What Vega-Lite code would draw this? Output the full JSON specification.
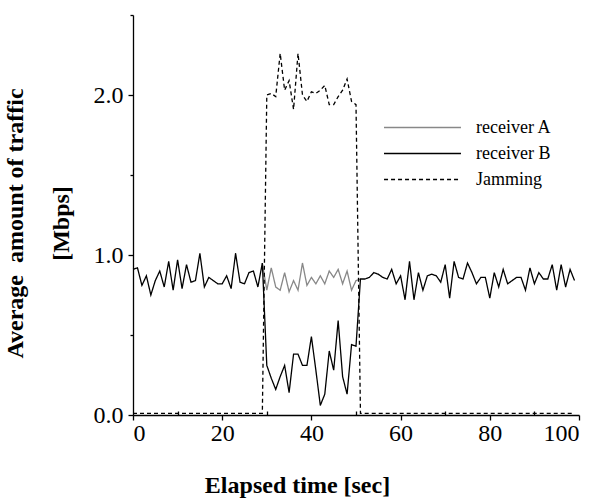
{
"$schema": "https://vega.github.io/schema/vega-lite/v6.json",
"width": 446, "height": 400,
"autosize": "none",
"padding": {"left": 133, "top": 15, "right": 26, "bottom": 83},
"background": "white",
"config": {"view": {"stroke": null}, "font": "Liberation Serif"},
"data": {"values": [
{"t":29,"v":0.95,"s":"receiver A"},{"t":30,"v":0.78,"s":"receiver A"},{"t":31,"v":0.92,"s":"receiver A"},{"t":32,"v":0.80,"s":"receiver A"},{"t":33,"v":0.78,"s":"receiver A"},{"t":34,"v":0.89,"s":"receiver A"},{"t":35,"v":0.77,"s":"receiver A"},{"t":36,"v":0.84,"s":"receiver A"},{"t":37,"v":0.78,"s":"receiver A"},{"t":38,"v":0.95,"s":"receiver A"},{"t":39,"v":0.81,"s":"receiver A"},{"t":40,"v":0.86,"s":"receiver A"},{"t":41,"v":0.82,"s":"receiver A"},{"t":42,"v":0.87,"s":"receiver A"},{"t":43,"v":0.82,"s":"receiver A"},{"t":44,"v":0.90,"s":"receiver A"},{"t":45,"v":0.86,"s":"receiver A"},{"t":46,"v":0.91,"s":"receiver A"},{"t":47,"v":0.82,"s":"receiver A"},{"t":48,"v":0.90,"s":"receiver A"},{"t":49,"v":0.78,"s":"receiver A"},{"t":50,"v":0.84,"s":"receiver A"},{"t":51,"v":0.85,"s":"receiver A"},
{"t":0,"v":0.91,"s":"receiver B"},{"t":1,"v":0.92,"s":"receiver B"},{"t":2,"v":0.81,"s":"receiver B"},{"t":3,"v":0.87,"s":"receiver B"},{"t":4,"v":0.75,"s":"receiver B"},{"t":5,"v":0.84,"s":"receiver B"},{"t":6,"v":0.90,"s":"receiver B"},{"t":7,"v":0.80,"s":"receiver B"},{"t":8,"v":0.96,"s":"receiver B"},{"t":9,"v":0.78,"s":"receiver B"},
{"t":10,"v":0.97,"s":"receiver B"},{"t":11,"v":0.79,"s":"receiver B"},{"t":12,"v":0.94,"s":"receiver B"},{"t":13,"v":0.83,"s":"receiver B"},{"t":14,"v":0.84,"s":"receiver B"},{"t":15,"v":1.01,"s":"receiver B"},{"t":16,"v":0.80,"s":"receiver B"},{"t":17,"v":0.86,"s":"receiver B"},{"t":18,"v":0.84,"s":"receiver B"},{"t":19,"v":0.82,"s":"receiver B"},
{"t":20,"v":0.82,"s":"receiver B"},{"t":21,"v":0.87,"s":"receiver B"},{"t":22,"v":0.79,"s":"receiver B"},{"t":23,"v":1.01,"s":"receiver B"},{"t":24,"v":0.83,"s":"receiver B"},{"t":25,"v":0.82,"s":"receiver B"},{"t":26,"v":0.89,"s":"receiver B"},{"t":27,"v":0.90,"s":"receiver B"},{"t":28,"v":0.80,"s":"receiver B"},{"t":29,"v":0.95,"s":"receiver B"},
{"t":30,"v":0.31,"s":"receiver B"},{"t":31,"v":0.23,"s":"receiver B"},{"t":32,"v":0.16,"s":"receiver B"},{"t":33,"v":0.24,"s":"receiver B"},{"t":34,"v":0.31,"s":"receiver B"},{"t":35,"v":0.14,"s":"receiver B"},{"t":36,"v":0.38,"s":"receiver B"},{"t":37,"v":0.38,"s":"receiver B"},{"t":38,"v":0.31,"s":"receiver B"},{"t":39,"v":0.31,"s":"receiver B"},
{"t":40,"v":0.49,"s":"receiver B"},{"t":41,"v":0.28,"s":"receiver B"},{"t":42,"v":0.06,"s":"receiver B"},{"t":43,"v":0.13,"s":"receiver B"},{"t":44,"v":0.40,"s":"receiver B"},{"t":45,"v":0.28,"s":"receiver B"},{"t":46,"v":0.59,"s":"receiver B"},{"t":47,"v":0.24,"s":"receiver B"},{"t":48,"v":0.13,"s":"receiver B"},{"t":49,"v":0.44,"s":"receiver B"},
{"t":50,"v":0.43,"s":"receiver B"},{"t":51,"v":0.85,"s":"receiver B"},{"t":52,"v":0.85,"s":"receiver B"},{"t":53,"v":0.86,"s":"receiver B"},{"t":54,"v":0.89,"s":"receiver B"},{"t":55,"v":0.88,"s":"receiver B"},{"t":56,"v":0.86,"s":"receiver B"},{"t":57,"v":0.85,"s":"receiver B"},{"t":58,"v":0.91,"s":"receiver B"},{"t":59,"v":0.82,"s":"receiver B"},
{"t":60,"v":0.87,"s":"receiver B"},{"t":61,"v":0.72,"s":"receiver B"},{"t":62,"v":0.96,"s":"receiver B"},{"t":63,"v":0.72,"s":"receiver B"},{"t":64,"v":0.89,"s":"receiver B"},{"t":65,"v":0.78,"s":"receiver B"},{"t":66,"v":0.87,"s":"receiver B"},{"t":67,"v":0.88,"s":"receiver B"},{"t":68,"v":0.87,"s":"receiver B"},{"t":69,"v":0.83,"s":"receiver B"},
{"t":70,"v":0.94,"s":"receiver B"},{"t":71,"v":0.73,"s":"receiver B"},{"t":72,"v":0.96,"s":"receiver B"},{"t":73,"v":0.86,"s":"receiver B"},{"t":74,"v":0.85,"s":"receiver B"},{"t":75,"v":0.95,"s":"receiver B"},{"t":76,"v":0.89,"s":"receiver B"},{"t":77,"v":0.82,"s":"receiver B"},{"t":78,"v":0.86,"s":"receiver B"},{"t":79,"v":0.86,"s":"receiver B"},
{"t":80,"v":0.73,"s":"receiver B"},{"t":81,"v":0.89,"s":"receiver B"},{"t":82,"v":0.80,"s":"receiver B"},{"t":83,"v":0.91,"s":"receiver B"},{"t":84,"v":0.82,"s":"receiver B"},{"t":85,"v":0.84,"s":"receiver B"},{"t":86,"v":0.86,"s":"receiver B"},{"t":87,"v":0.86,"s":"receiver B"},{"t":88,"v":0.78,"s":"receiver B"},{"t":89,"v":0.92,"s":"receiver B"},
{"t":90,"v":0.82,"s":"receiver B"},{"t":91,"v":0.89,"s":"receiver B"},{"t":92,"v":0.85,"s":"receiver B"},{"t":93,"v":0.85,"s":"receiver B"},{"t":94,"v":0.94,"s":"receiver B"},{"t":95,"v":0.78,"s":"receiver B"},{"t":96,"v":0.94,"s":"receiver B"},{"t":97,"v":0.80,"s":"receiver B"},{"t":98,"v":0.91,"s":"receiver B"},{"t":99,"v":0.84,"s":"receiver B"},
{"t":0,"v":0.01,"s":"Jamming"},{"t":29,"v":0.01,"s":"Jamming"},{"t":30,"v":2.00,"s":"Jamming"},{"t":31,"v":2.01,"s":"Jamming"},{"t":32,"v":1.99,"s":"Jamming"},{"t":33,"v":2.26,"s":"Jamming"},{"t":34,"v":2.03,"s":"Jamming"},{"t":35,"v":2.09,"s":"Jamming"},{"t":36,"v":1.91,"s":"Jamming"},{"t":37,"v":2.26,"s":"Jamming"},{"t":38,"v":2.00,"s":"Jamming"},{"t":39,"v":1.96,"s":"Jamming"},
{"t":40,"v":2.02,"s":"Jamming"},{"t":41,"v":2.01,"s":"Jamming"},{"t":42,"v":2.03,"s":"Jamming"},{"t":43,"v":2.06,"s":"Jamming"},{"t":44,"v":1.94,"s":"Jamming"},{"t":45,"v":1.94,"s":"Jamming"},{"t":46,"v":1.99,"s":"Jamming"},{"t":47,"v":2.03,"s":"Jamming"},{"t":48,"v":2.10,"s":"Jamming"},{"t":49,"v":1.96,"s":"Jamming"},{"t":50,"v":1.94,"s":"Jamming"},{"t":51,"v":0.01,"s":"Jamming"},{"t":99,"v":0.01,"s":"Jamming"}
]},
"mark": {"type": "line", "strokeWidth": 1.3},
"encoding": {
 "x": {"field": "t", "type": "quantitative",
   "scale": {"domain": [0, 100], "nice": false, "zero": false},
   "axis": {"values": [0,10,20,30,40,50,60,70,80,90,100], "grid": false,
     "labelExpr": "datum.value % 20 === 0 ? datum.label : ''",
     "tickSize": {"condition": {"test": "datum.value % 20 === 0", "value": 5}, "value": -4},
     "labelFont": "Liberation Serif", "labelFontSize": 24, "labelColor": "black", "labelPadding": 1,
     "domainColor": "black", "domainWidth": 1.3, "tickColor": "black", "tickWidth": 1.3,
     "title": "Elapsed time [sec]", "titleFont": "Liberation Serif", "titleFontSize": 24, "titleFontWeight": "bold", "titleColor": "black",
     "titleX": 164, "titleY": 77, "titleAlign": "center", "titleBaseline": "alphabetic"}},
 "y": {"field": "v", "type": "quantitative",
   "scale": {"domain": [0, 2.5], "nice": false},
   "axis": {"values": [0,0.5,1,1.5,2,2.5], "grid": false,
     "labelExpr": "datum.value % 1 === 0 ? format(datum.value, '.1f') : ''",
     "tickSize": {"condition": {"test": "datum.value % 1 === 0", "value": 5}, "value": 3},
     "labelFont": "Liberation Serif", "labelFontSize": 24, "labelColor": "black", "labelPadding": 5,
     "domainColor": "black", "domainWidth": 1.3, "tickColor": "black", "tickWidth": 1.3,
     "title": ["Average\u00a0 amount of traffic", "[Mbps]"], "titleFont": "Liberation Serif", "titleFontSize": 24, "titleFontWeight": "bold", "titleColor": "black",
     "titleX": -111, "titleY": 208, "titleAlign": "center", "titleBaseline": "alphabetic", "titleAngle": -90, "titleLineHeight": 46}},
 "color": {"field": "s", "type": "nominal",
   "scale": {"domain": ["receiver A", "receiver B", "Jamming"], "range": ["#888888", "#000000", "#000000"]},
   "legend": {"title": null, "orient": "none", "legendX": 279, "legendY": 102, "symbolType": "M-4,0H4", "symbolSize": 370, "symbolStrokeWidth": 1.3, "labelFont": "Liberation Serif", "labelFontSize": 18, "labelColor": "black", "labelOffset": 43, "rowPadding": 6, "padding": 0}},
 "strokeDash": {"field": "s", "type": "nominal",
   "scale": {"domain": ["receiver A", "receiver B", "Jamming"], "range": [[1, 0], [1, 0], [4, 3]]},
   "legend": {"title": null, "orient": "none", "legendX": 279, "legendY": 102, "symbolType": "M-4,0H4", "symbolSize": 370, "symbolStrokeWidth": 1.3, "labelFont": "Liberation Serif", "labelFontSize": 18, "labelColor": "black", "labelOffset": 43, "rowPadding": 6, "padding": 0}}
}
}
